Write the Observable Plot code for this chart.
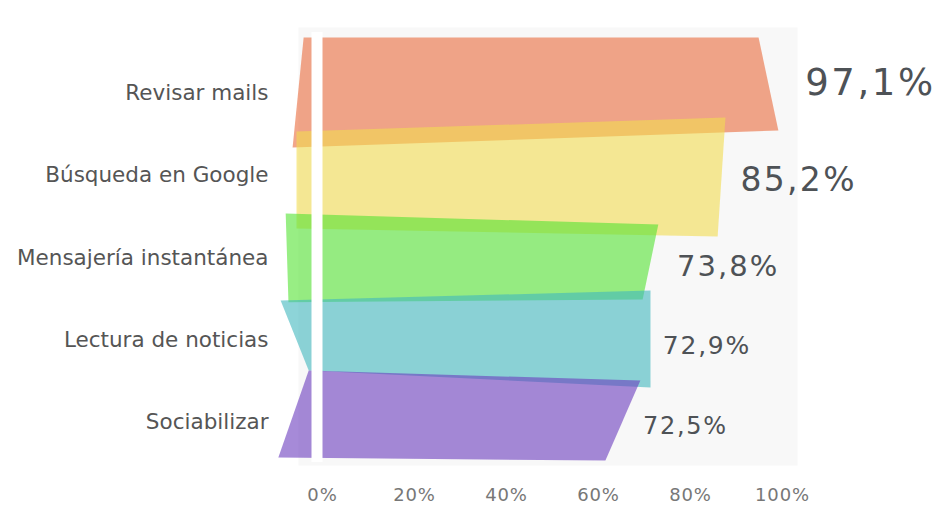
<!DOCTYPE html>
<html><head><meta charset="utf-8">
<script src="https://cdn.jsdelivr.net/npm/d3@7"></script>
<script src="https://cdn.jsdelivr.net/npm/@observablehq/plot@0.6"></script>
<style>
  html, body { margin: 0; padding: 0; background: #fff; }
  #chart svg { display: block; }
</style>
</head>
<body>
<div id="chart"></div>
<script>
// ---- data ----
const categories = ["Revisar mails", "Búsqueda en Google", "Mensajería instantánea", "Lectura de noticias", "Sociabilizar"];
const values = [97.1, 85.2, 73.8, 72.9, 72.5];
const valueLabels = ["97,1%", "85,2%", "73,8%", "72,9%", "72,5%"];
const xTicks = [0, 20, 40, 60, 80, 100];
const xTickLabels = ["0%", "20%", "40%", "60%", "80%", "100%"];

// ---- styling ----
const colors = ["#e96b3c", "#f2dc50", "#53e332", "#41b7be", "#6b3cbe"];
// decorative skew of each band's corners: left x in % units, right x as offset from the value,
// vertical as offset from the band centre (band units)
const skew = [
  {tl: [-4.1, -0.675], tr: [-2.3, -0.675], br: [2.0, 0.454], bl: [-6.5, 0.66]},
  {tl: [-5.65, -0.533], tr: [2.4, -0.703], br: [0.7, 0.742], bl: [-5.65, 0.645]},
  {tl: [-8.0, -0.538], tr: [-0.8, -0.404], br: [-4.2, 0.506], bl: [-7.4, 0.54]},
  {tl: [-9.1, -0.48], tr: [-1.6, -0.602], br: [-1.6, 0.576], bl: [-3.0, 0.37]},
  {tl: [-3.0, -0.63], tr: [-3.4, -0.509], br: [-11.0, 0.463], bl: [-9.6, 0.427]}
];
const labelSize = [37, 33, 29, 25, 24];
const labelDx = [36, 26, 15, 5, -13];
const labelDy = [-10, 5, 9, 6, 4];

// ---- build polygons from the values ----
const polys = [];
categories.forEach((c, i) => {
  const v = values[i], s = skew[i];
  polys.push({cat: c, x: s.tl[0], y: i + s.tl[1]});
  polys.push({cat: c, x: v + s.tr[0], y: i + s.tr[1]});
  polys.push({cat: c, x: v + s.br[0], y: i + s.br[1]});
  polys.push({cat: c, x: s.bl[0], y: i + s.bl[1]});
});
const rows = categories.map((c, i) => ({cat: c, i, value: values[i], label: valueLabels[i]}));

const chart = Plot.plot({
  width: 939,
  height: 505,
  marginLeft: 322,
  marginRight: 157,
  marginTop: 35,
  marginBottom: 46,
  style: {fontFamily: "DejaVu Sans, sans-serif", background: "#fff"},
  x: {domain: [0, 100]},
  y: {type: "linear", domain: [-0.7, 4.45], reverse: true},
  color: {domain: categories, range: colors},
  marks: [
    Plot.frame({fill: "#f8f8f8", stroke: null, insetLeft: -24, insetRight: -15, insetTop: -8, insetBottom: -6}),
    Plot.line(polys, {x: "x", y: "y", z: "cat", fill: "cat", stroke: null, fillOpacity: 0.6, curve: "linear-closed"}),
    Plot.ruleX([0], {stroke: "#fff", strokeWidth: 11, dx: -5.5, insetTop: -3, insetBottom: -3}),
    Plot.axisY({ticks: d3.range(categories.length), tickFormat: i => categories[i], tickSize: 0, tickPadding: 54, fontSize: 21.5, fill: "#555", label: null}),
    Plot.axisX({ticks: xTicks, tickFormat: (d, k) => xTickLabels[k], tickSize: 0, tickPadding: 29, fontSize: 18, fill: "#777", label: null, className: "xtick"}),
    ...rows.map((d, k) => Plot.text([d], {
      x: "value", y: "i", text: "label", textAnchor: "start",
      dx: labelDx[k], dy: labelDy[k], fontSize: labelSize[k], fill: "#4e5256"
    }))
  ]
});
document.getElementById("chart").appendChild(chart);
// widen the value labels' letter spacing like the original's wide typeface
d3.select(chart).selectAll("g[aria-label='text'] text").style("letter-spacing", "0.07em");
d3.select(chart).selectAll("g[aria-label='x-axis tick label'] text").style("letter-spacing", "0.05em");
</script>
</body></html>
